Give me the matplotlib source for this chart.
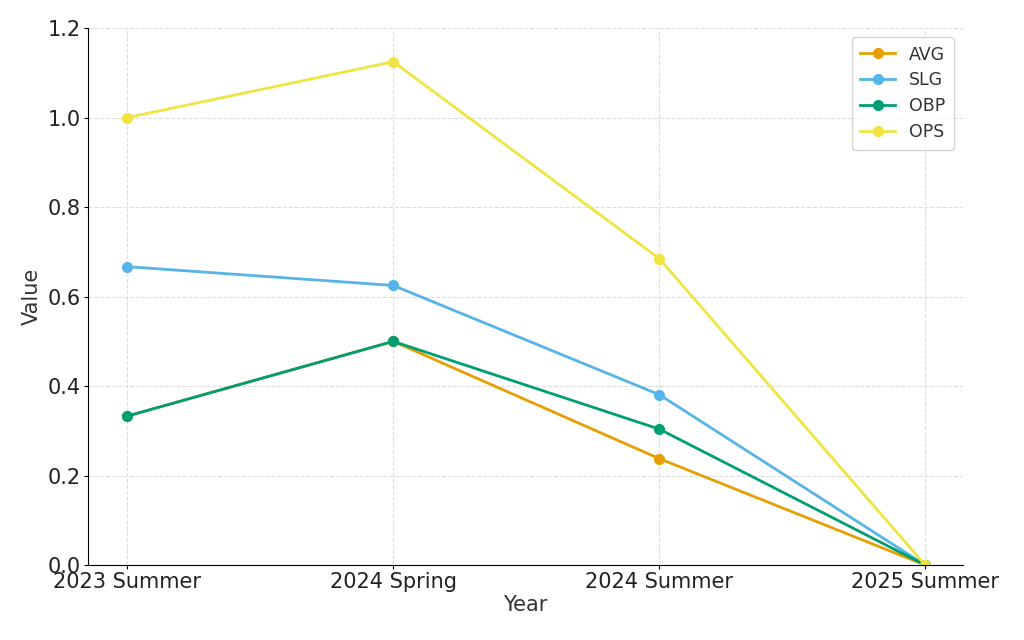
import matplotlib
matplotlib.use("Agg")
import matplotlib.pyplot as plt

years = ["2023 Summer", "2024 Spring", "2024 Summer", "2025 Summer"]
avg = [0.333, 0.500, 0.238, 0.0]
slg = [0.667, 0.625, 0.381, 0.0]
obp = [0.333, 0.500, 0.304, 0.0]
ops = [1.000, 1.125, 0.685, 0.0]

fig, ax = plt.subplots(figsize=(10.24, 6.4), dpi=100)
fig.subplots_adjust(left=0.086, right=0.940, top=0.956, bottom=0.117)

x = range(len(years))
ax.plot(x, avg, marker='o', color='#E69F00', linewidth=2, markersize=7, label='AVG')
ax.plot(x, slg, marker='o', color='#56B4E9', linewidth=2, markersize=7, label='SLG')
ax.plot(x, obp, marker='o', color='#009E73', linewidth=2, markersize=7, label='OBP')
ax.plot(x, ops, marker='o', color='#F0E442', linewidth=2, markersize=7, label='OPS')

ax.set_xticks(list(x))
ax.set_xticklabels(years)
ax.tick_params(axis='both', labelsize=15, labelcolor='#222222', length=3, pad=2)
ax.set_xlim(-0.147, 3.14)
ax.set_ylim(0, 1.2)
ax.set_xlabel('Year', fontsize=15, color='#333333', labelpad=2)
ax.set_ylabel('Value', fontsize=15, color='#333333')
ax.grid(True, linestyle='--', color='#dddddd', linewidth=0.8)
ax.spines['top'].set_visible(False)
ax.spines['right'].set_visible(False)
leg = ax.legend(loc='upper right', fontsize=12.5, borderpad=0.5, labelspacing=0.45)
for t in leg.get_texts():
    t.set_color('#333333')

fig.savefig('out.png')
